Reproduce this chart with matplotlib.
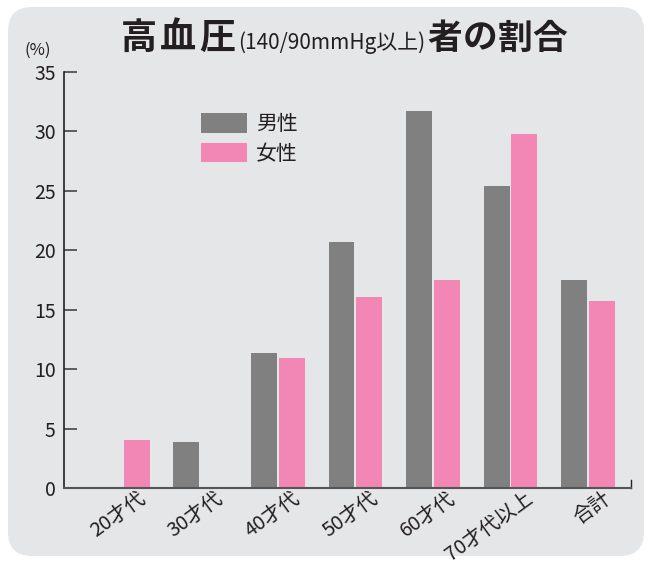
import matplotlib
matplotlib.use('Agg')
import matplotlib.pyplot as plt
import matplotlib.transforms as mtransforms
import numpy as np
from matplotlib.patches import FancyBboxPatch
from matplotlib.offsetbox import TextArea, HPacker, AnchoredOffsetbox

plt.rcParams['font.family'] = ['Noto Sans CJK JP', 'DejaVu Sans']

categories = ['20才代', '30才代', '40才代', '50才代', '60才代', '70才代以上', '合計']
male = [0, 3.9, 11.4, 20.7, 31.7, 25.4, 17.5]
female = [4.0, 0, 10.9, 16.1, 17.5, 29.8, 15.7]
yticks = [0, 5, 10, 15, 20, 25, 30, 35]

gray = '#808080'
pink = '#f287b5'
bg = '#e5e6e8'
txt = '#231f20'

W, H = 652, 563
fig = plt.figure(figsize=(W / 100, H / 100), dpi=100)
fig.patch.set_facecolor('white')

# rounded grey panel on a background axes (pixel coords)
bax = fig.add_axes([0, 0, 1, 1], zorder=-1)
bax.set_xlim(0, W)
bax.set_ylim(H, 0)
bax.axis('off')
bax.add_patch(FancyBboxPatch((8, 7), 644 - 8, 556 - 7,
                             boxstyle='round,pad=0,rounding_size=24',
                             facecolor=bg, edgecolor='none'))
bax.text(38, 50, '(%)', ha='center', va='center', fontsize=12, color=txt)

ax = fig.add_axes([64 / W, 1 - 488 / H, (631 - 64) / W, (488 - 72) / H])
ax.set_facecolor('none')

x = np.arange(len(categories))
w = 0.335
off = 0.18
ax.bar(x - off, male, width=w, color=gray, label='男性', zorder=2)
ax.bar(x + off, female, width=w, color=pink, label='女性', zorder=2)

ax.set_xlim(-0.76, 6.555)
ax.set_ylim(0, 35)
ax.set_yticks(yticks)
ax.tick_params(axis='y', direction='in', length=9, width=1.2, color='#444444',
               labelsize=14, labelcolor=txt, pad=6)
ax.set_xticks(x)
ax.set_xticklabels(categories, rotation=36, ha='right', va='top',
                   rotation_mode='anchor', fontsize=14.5, color=txt)
ax.tick_params(axis='x', length=0, pad=0)
shift = mtransforms.ScaledTranslation(14 / 100, 0, fig.dpi_scale_trans)
for lab in ax.get_xticklabels():
    lab.set_transform(lab.get_transform() + shift)

ax.spines['top'].set_visible(False)
ax.spines['left'].set_color('#222222')
ax.spines['left'].set_linewidth(1.2)
ax.spines['bottom'].set_color('#555555')
ax.spines['bottom'].set_linewidth(1.5)
ax.spines['right'].set_color('#222222')
ax.spines['right'].set_linewidth(1.0)
ax.spines['right'].set_bounds(0, 0.7)

leg = ax.legend(loc='upper left', bbox_to_anchor=(201 / W, 1 - 113 / H),
                bbox_transform=fig.transFigure, frameon=False, borderpad=0,
                borderaxespad=0, fontsize=15, handlelength=2.2, handleheight=1.05,
                handletextpad=0.45, labelspacing=0.38, labelcolor=txt)

# title made of mixed-size parts
head = HPacker(children=[TextArea(c, textprops=dict(fontsize=26, fontweight='bold', color=txt))
                         for c in '高血圧'],
               align='baseline', pad=0, sep=2)
tail = HPacker(children=[TextArea(c, textprops=dict(fontsize=25, fontweight='bold', color=txt))
                         for c in '者の割合'],
               align='baseline', pad=0, sep=0)
mid = TextArea('(140/90mmHg以上)', textprops=dict(fontsize=15, color=txt))
box = HPacker(children=[head, mid, tail], align='baseline', pad=0, sep=2)
anch = AnchoredOffsetbox(loc='center', child=box, frameon=False,
                         bbox_to_anchor=(344 / W, 1 - 38 / H),
                         bbox_transform=fig.transFigure, borderpad=0, pad=0)
fig.add_artist(anch)

fig.savefig('out.png', dpi=100, facecolor=fig.get_facecolor())
